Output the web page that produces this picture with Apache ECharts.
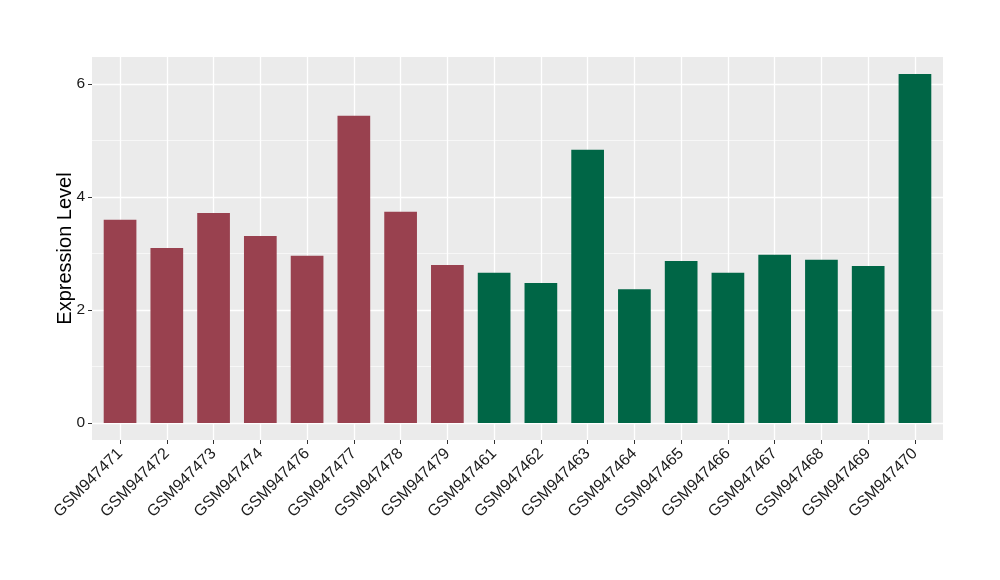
<!DOCTYPE html>
<html>
<head>
<meta charset="utf-8">
<script src="https://cdn.jsdelivr.net/npm/echarts@6/dist/echarts.min.js"></script>
<style>html,body{margin:0;padding:0;background:#fff}#c{width:1000px;height:580px}</style>
</head>
<body>
<div id="c"></div>
<script>
const categories = ["GSM947471","GSM947472","GSM947473","GSM947474","GSM947476","GSM947477","GSM947478","GSM947479","GSM947461","GSM947462","GSM947463","GSM947464","GSM947465","GSM947466","GSM947467","GSM947468","GSM947469","GSM947470"];
const values = [3.60,3.10,3.72,3.31,2.96,5.44,3.74,2.80,2.66,2.48,4.84,2.37,2.87,2.66,2.98,2.89,2.78,6.18];
const groups = ["A","A","A","A","A","A","A","A","B","B","B","B","B","B","B","B","B","B"];
const groupColors = {A:"#99414F", B:"#006646"};
const yTicks = [0,2,4,6];
const yMinor = [1,3,5];
const yLimits = [-0.3, 6.48];
const xLimits = [-0.6, categories.length - 1 + 0.6];

const font = "'Liberation Sans', Arial, sans-serif";
const chart = echarts.init(document.getElementById('c'), null, {renderer:'canvas'});
const idx = categories.map((c,i)=>i);
const gridLines = [];
yTicks.forEach(v => gridLines.push({yAxis: v, lineStyle:{color:'#fff', width:1.3, type:'solid'}}));
yMinor.forEach(v => gridLines.push({yAxis: v, lineStyle:{color:'#fff', width:0.6, type:'solid'}}));
idx.forEach(i => gridLines.push({xAxis: i, lineStyle:{color:'#fff', width:1.3, type:'solid'}}));

chart.setOption({
  animation:false,
  grid:{left:92, right:57, top:57, bottom:140, show:true, backgroundColor:'#EBEBEB', borderWidth:0},
  xAxis:{
    type:'value', min:xLimits[0], max:xLimits[1],
    axisLine:{show:false, onZero:false},
    axisTick:{show:true, customValues:idx, length:4, lineStyle:{color:'#333', width:1}},
    axisLabel:{customValues:idx, formatter:(v)=>categories[Math.round(v)], rotate:45, fontSize:16, color:'#1a1a1a', fontFamily:font, margin:11},
    splitLine:{show:false}
  },
  yAxis:{
    type:'value', min:yLimits[0], max:yLimits[1],
    name:'Expression Level', nameLocation:'middle', nameGap:17, nameMoveOverlap:false,
    nameTextStyle:{fontSize:20, color:'#000', fontFamily:font},
    axisLine:{show:false, onZero:false},
    axisTick:{show:true, length:4, customValues:yTicks, lineStyle:{color:'#333', width:1}},
    axisLabel:{customValues:yTicks, fontSize:15.5, color:'#1a1a1a', fontFamily:font, margin:7},
    splitLine:{show:false}
  },
  series:[
    {
      type:'bar', data:values.map((v,i)=>({value:[i,v], itemStyle:{color:groupColors[groups[i]]}})),
      barWidth:32.7, z:2,
      markLine:{silent:true, symbol:['none','none'], z:1, label:{show:false}, data:gridLines, animation:false}
    }
  ]
});
</script>
</body>
</html>
